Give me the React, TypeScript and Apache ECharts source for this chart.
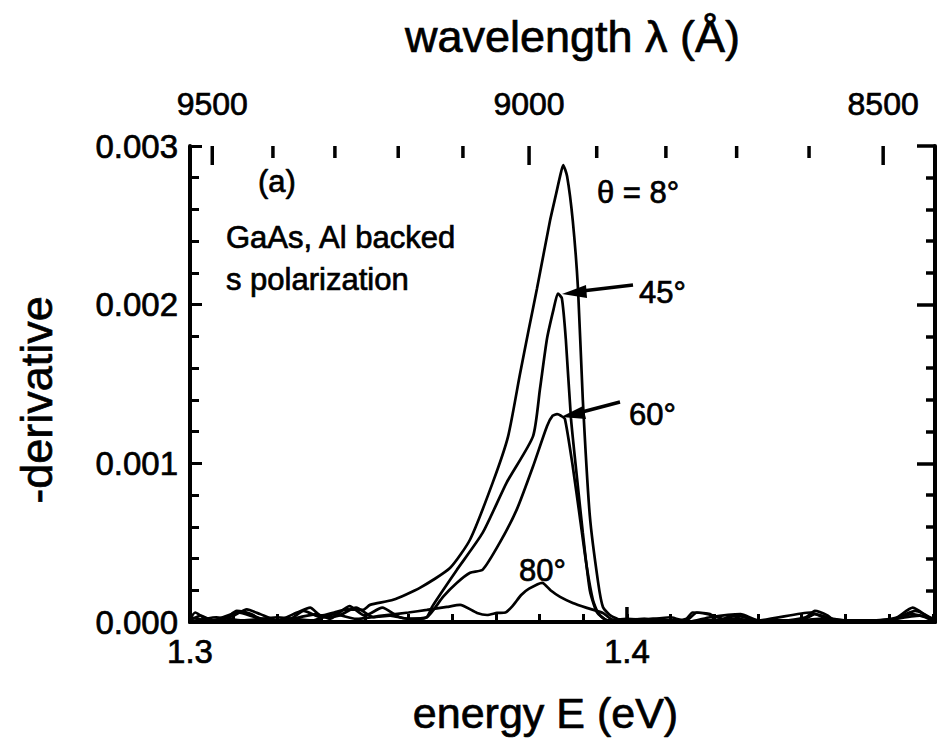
import React, { useEffect, useRef } from 'react';
import * as echarts from 'echarts';

// photon energy (eV) <-> wavelength (Å)
const HC = 12398.4;

const ENERGY_MIN = 1.3;
const ENERGY_MAX = 1.4705;
const DERIV_MIN = 0;
const DERIV_MAX = 0.003;

const energyLabels = [1.3, 1.4];
const energyMajorTicks = [1.3, 1.4];
const derivLabels = [0, 0.001, 0.002, 0.003];
const wavelengthTicks = [9500, 9400, 9300, 9200, 9100, 9000, 8900, 8800, 8700, 8600, 8500];
const wavelengthLabels = [9500, 9000, 8500];

// -derivative vs photon energy, incidence angle 8°
const theta8: [number, number][] = [
  [1.3, 0.00002], [1.3012, 0.00006], [1.303, 0.00003], [1.306, 0.00001], [1.31, 0.00004],
  [1.313, 0.00008], [1.316, 0.00005], [1.32, 0.00001], [1.3245, 0.00006], [1.3275, 0.00009],
  [1.33, 0.00004], [1.333, 0.00006], [1.336, 0.00008], [1.3396, 0.000076], [1.3412, 0.000108],
  [1.3465, 0.00014], [1.3526, 0.000215], [1.3595, 0.00034], [1.3641, 0.00052], [1.3693, 0.00088],
  [1.3728, 0.00117], [1.3755, 0.00156], [1.3775, 0.00184], [1.3794, 0.0021], [1.3824, 0.00253],
  [1.3838, 0.0027], [1.3847, 0.00281], [1.3854, 0.00288], [1.3863, 0.00281], [1.3876, 0.00253],
  [1.3888, 0.0021], [1.3899, 0.0014], [1.3915, 0.00067], [1.3934, 0.00025], [1.3945, 0.000095],
  [1.3961, 0.000044], [1.399, 0.00001], [1.404, 0.00002], [1.409, 0.0], [1.4136, 0.00002],
  [1.415, 0.00006], [1.419, 0.00005], [1.4205, 0.0], [1.424, 0.00004], [1.4269, 0.00001],
  [1.433, 0.0], [1.4409, 0.00003], [1.443, 0.00007], [1.446, 0.00004], [1.448, 0.0],
  [1.456, 0.00001], [1.4612, 0.00002], [1.4654, 0.00009], [1.469, 0.00003], [1.4705, 0.0],
];

// incidence angle 45°
const theta45: [number, number][] = [
  [1.3, 0.00001], [1.3025, 0.00004], [1.305, 0.00001], [1.311, 0.00006], [1.315, 0.00003],
  [1.32, 0.0], [1.325, 0.00003], [1.329, 0.00005], [1.332, 0.00002], [1.3365, 0.0001],
  [1.34, 0.00004], [1.344, 0.00009], [1.348, 0.00003], [1.352, 0.00002], [1.3542, 0.00003],
  [1.3554, 0.000095], [1.3579, 0.0002], [1.3611, 0.00033], [1.367, 0.000563], [1.3725, 0.00088],
  [1.3785, 0.00117], [1.3801, 0.00147], [1.3817, 0.001785], [1.3832, 0.00197], [1.3842, 0.00207],
  [1.3851, 0.00204], [1.386, 0.001785], [1.3872, 0.00128], [1.3886, 0.0009], [1.3899, 0.000563],
  [1.3915, 0.0002], [1.3931, 0.000063], [1.3955, 0.00001], [1.4, 0.00002], [1.406, 0.00001],
  [1.4136, 0.00001], [1.416, 0.00006], [1.4199, 0.00004], [1.4222, 0.00002], [1.425, 0.00004],
  [1.43, 0.00001], [1.44, 0.00001], [1.443, 0.00005], [1.4472, 0.00002], [1.455, 0.0],
  [1.462, 0.00003], [1.466, 0.00007], [1.4705, 0.00001],
];

// incidence angle 60°
const theta60: [number, number][] = [
  [1.3, 0.00003], [1.304, 0.00001], [1.308, 0.00002], [1.3107, 0.00007], [1.314, 0.00005],
  [1.317, 0.00001], [1.323, 0.00002], [1.326, 0.00007], [1.33, 0.00003], [1.334, 0.00004],
  [1.338, 0.00009], [1.342, 0.00003], [1.3458, 0.00004], [1.35, 0.00002], [1.3542, 0.00003],
  [1.3579, 0.000158], [1.3611, 0.000247], [1.3641, 0.00031], [1.367, 0.00033], [1.3709, 0.0005],
  [1.3748, 0.00071], [1.3785, 0.00098], [1.3817, 0.001234], [1.383, 0.0013], [1.384, 0.00131],
  [1.3849, 0.0013], [1.3858, 0.00128], [1.3876, 0.00098], [1.3892, 0.000665], [1.3908, 0.000348],
  [1.3922, 0.00014], [1.3934, 0.000057], [1.3955, 0.00001], [1.402, 0.00001], [1.41, 0.00003],
  [1.414, 0.0], [1.419, 0.00003], [1.426, 0.00005], [1.43, 0.00001], [1.442, 0.00006],
  [1.447, 0.00001], [1.46, 0.00001], [1.465, 0.00005], [1.4705, 0.00002],
];

// incidence angle 80°
const theta80: [number, number][] = [
  [1.3, 0.0], [1.306, 0.00003], [1.312, 0.00001], [1.32, 0.00003], [1.328, 0.00001],
  [1.333, 0.00005], [1.338, 0.00002], [1.344, 0.00004], [1.35, 0.00006], [1.3542, 0.000076],
  [1.3588, 0.000095], [1.3618, 0.000108], [1.3657, 0.000057], [1.368, 0.000044], [1.3703, 0.000057],
  [1.3722, 0.00006], [1.3738, 0.0001], [1.3758, 0.00017], [1.3776, 0.00021], [1.3806, 0.000247],
  [1.3825, 0.0002], [1.3847, 0.000158], [1.3876, 0.00012], [1.3908, 0.000089], [1.3945, 0.000057],
  [1.3968, 0.000013], [1.406, 0.00002], [1.412, 0.0], [1.424, 0.00002], [1.435, 0.0],
  [1.444, 0.00002], [1.456, 0.0], [1.467, 0.00004], [1.4705, 0.0],
];

const FONT = '"Liberation Sans", Arial, Helvetica, sans-serif';
const INK = '#000';
const HEAVY = { textBorderColor: INK, textBorderWidth: 0.7 };

const curve = (name: string, data: [number, number][]) => ({
  name,
  type: 'line',
  data,
  xAxisIndex: 0,
  yAxisIndex: 0,
  showSymbol: false,
  smooth: 0.2,
  lineStyle: { color: INK, width: 2.7 },
  silent: true,
});

const label = (text: string, x: number, y: number, size = 31) => ({
  type: 'text',
  x,
  y,
  style: {
    text,
    fontSize: size,
    fontFamily: FONT,
    fill: INK,
    stroke: INK,
    lineWidth: 0.7,
    align: 'left',
    verticalAlign: 'middle',
  },
});

export default function App() {
  const ref = useRef<HTMLDivElement>(null);

  useEffect(() => {
    if (!ref.current) return;
    const chart = echarts.init(ref.current, undefined, { renderer: 'svg' });

    // tick marks along the top (wavelength) and the major energy ticks at the bottom
    const tickData = [
      ...wavelengthTicks.map((l) => [HC / l, wavelengthLabels.includes(l) ? 1 : 0, 1]),
      ...energyMajorTicks.map((e) => [e, 1, 0]),
    ];

    chart.setOption({
      animation: false,
      backgroundColor: '#fff',
      textStyle: { fontFamily: FONT, color: INK },
      grid: { left: 190, top: 146, right: 5, bottom: 131, containLabel: false, outerBoundsMode: 'none' },
      xAxis: [
        {
          type: 'value',
          position: 'bottom',
          min: ENERGY_MIN,
          max: ENERGY_MAX,
          interval: 0.01,
          name: 'energy E (eV)',
          nameLocation: 'middle',
          nameGap: 69,
          nameTextStyle: { fontSize: 43, color: INK, fontFamily: FONT, padding: [0, 34, 0, 0], ...HEAVY },
          axisLine: { lineStyle: { color: INK, width: 4 } },
          axisTick: { inside: true, length: 8, lineStyle: { color: INK, width: 3 } },
          axisLabel: {
            customValues: energyLabels,
            formatter: (v: number) => v.toFixed(1),
            fontSize: 33,
            color: INK,
            fontFamily: FONT,
            margin: 13,
            ...HEAVY,
          },
          splitLine: { show: false },
        },
        {
          type: 'value',
          position: 'top',
          min: ENERGY_MIN,
          max: ENERGY_MAX,
          name: 'wavelength λ (Å)',
          nameLocation: 'middle',
          nameGap: 87,
          nameTextStyle: { fontSize: 45, color: INK, fontFamily: FONT, padding: [0, 0, 0, 20], ...HEAVY },
          axisLine: { lineStyle: { color: INK, width: 4 } },
          axisTick: { show: false },
          axisLabel: {
            customValues: wavelengthLabels.map((l) => HC / l),
            formatter: (v: number) => String(Math.round(HC / v / 100) * 100),
            fontSize: 32,
            color: INK,
            fontFamily: FONT,
            margin: 26,
            ...HEAVY,
          },
          splitLine: { show: false },
        },
      ],
      yAxis: [
        {
          type: 'value',
          position: 'left',
          min: DERIV_MIN,
          max: DERIV_MAX,
          interval: 0.001,
          name: '-derivative',
          nameLocation: 'middle',
          nameGap: 131,
          nameTextStyle: { fontSize: 45, color: INK, fontFamily: FONT, padding: [0, 32, 0, 0], ...HEAVY },
          axisLine: { lineStyle: { color: INK, width: 4 } },
          axisTick: { inside: true, length: 12, lineStyle: { color: INK, width: 3 } },
          minorTick: { show: true, splitNumber: 5, length: 9, lineStyle: { color: INK, width: 3 } },
          axisLabel: {
            customValues: derivLabels,
            formatter: (v: number) => v.toFixed(3),
            fontSize: 33,
            color: INK,
            fontFamily: FONT,
            margin: 12,
            ...HEAVY,
          },
          splitLine: { show: false },
        },
        {
          type: 'value',
          position: 'right',
          min: DERIV_MIN,
          max: DERIV_MAX,
          interval: 0.001,
          axisLine: { lineStyle: { color: INK, width: 4 } },
          axisTick: { inside: true, length: 18, lineStyle: { color: INK, width: 3.5 } },
          minorTick: { show: true, splitNumber: 5, length: 9, lineStyle: { color: INK, width: 3.5 } },
          axisLabel: { show: false },
          splitLine: { show: false },
        },
      ],
      series: [
        curve('θ = 8°', theta8),
        curve('45°', theta45),
        curve('60°', theta60),
        curve('80°', theta80),
        {
          name: 'ticks',
          type: 'custom',
          xAxisIndex: 0,
          yAxisIndex: 0,
          silent: true,
          clip: false,
          data: tickData,
          encode: { x: 0 },
          renderItem: (_params: any, api: any) => {
            const top = api.value(2) === 1;
            const major = api.value(1) === 1;
            const p = api.coord([api.value(0), top ? DERIV_MAX : DERIV_MIN]);
            const len = top ? (major ? 19 : 12) : 15;
            const dir = top ? 1 : -1;
            return {
              type: 'line',
              shape: { x1: p[0], y1: p[1], x2: p[0], y2: p[1] + dir * len },
              style: { stroke: INK, lineWidth: 3.5 },
            };
          },
        },
      ],
      graphic: [
        label('(a)', 258, 181),
        label('GaAs, Al backed', 226, 237),
        label('s polarization', 226, 279),
        label('θ = 8°', 597, 192),
        label('45°', 639, 292),
        label('60°', 629, 414),
        label('80°', 519, 570),
        // arrow to the 45° peak
        { type: 'line', shape: { x1: 633, y1: 285, x2: 582, y2: 291 }, style: { stroke: INK, lineWidth: 3.5 } },
        { type: 'polygon', shape: { points: [[562, 294], [586, 285], [587, 298]] }, style: { fill: INK } },
        // arrow to the 60° peak
        { type: 'line', shape: { x1: 620, y1: 402, x2: 582, y2: 412 }, style: { stroke: INK, lineWidth: 3.5 } },
        { type: 'polygon', shape: { points: [[561, 417], [583, 406], [586, 419]] }, style: { fill: INK } },
      ],
    });

    return () => chart.dispose();
  }, []);

  return (
    <div
      ref={ref}
      style={{ position: 'fixed', left: 0, top: 0, width: 940, height: 753, background: '#fff' }}
    />
  );
}
